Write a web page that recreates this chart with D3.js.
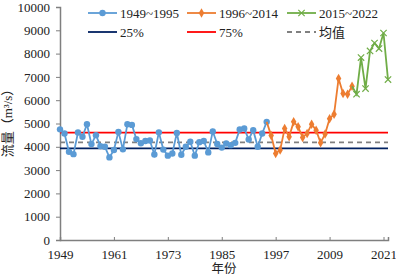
<!DOCTYPE html>
<html>
<head>
<meta charset="utf-8">
<script src="https://cdn.jsdelivr.net/npm/d3@7"></script>
<style>
  body { margin: 0; background: #fff; }
  svg { display: block; }
  text { font-family: "Liberation Serif", "Noto Sans CJK SC", serif; fill: #222; }
</style>
</head>
<body>
<svg id="chart"></svg>
<script>
/* CONSTANTS AND GLOBALS */
const width = 396,
  height = 278,
  margin = { top: 7, bottom: 38, left: 60, right: 8 };

// runoff series (m3/s)
const years1 = d3.range(1949, 1996);
const flow1 = [4750, 4570, 3785, 3685, 4615, 4430, 4970, 4115, 4500, 4030,
  4000, 3545, 3860, 4640, 3890, 4970, 4940, 4330, 4150, 4250,
  4270, 3670, 4620, 3880, 3620, 3715, 4590, 3660, 4000, 4215,
  3620, 4200, 4250, 3760, 4660, 4120, 3965, 4140, 4070, 4170,
  4740, 4785, 4315, 4715, 4000, 4570, 5070];

const years2 = d3.range(1996, 2015);
const flow2 = [4480, 3715, 3860, 4785, 4430, 5070, 4860, 4400, 4570, 4970,
  4715, 4170, 4550, 5200, 5400, 6930, 6285, 6260, 6600];

const years3 = d3.range(2015, 2023);
const flow3 = [6260, 7830, 6500, 8115, 8455, 8215, 8885, 6885];

// reference levels
const q25 = 3930, q75 = 4610, meanFlow = 4190;

const xTicks = [1949, 1961, 1973, 1985, 1997, 2009, 2021];
const yTicks = d3.range(0, 10001, 1000);

const seriesNames = ["1949~1995", "1996~2014", "2015~2022"];
const lineNames = ["25%", "75%", "均值"];

const colors = { s1: "#5b9bd5", s2: "#ed7d31", s3: "#70ad47", q25: "#002060", q75: "#ff0000", mean: "#808080" };

const svg = d3.select("#chart").attr("width", width).attr("height", height);

/* SCALES */
const xScale = d3.scaleLinear()
  .domain([1949, 2022])
  .range([margin.left, width - margin.right]);

const yScale = d3.scaleLinear()
  .domain([0, 10000])
  .range([height - margin.bottom, margin.top]);

/* AXES */
const xAxisGroup = svg.append("g")
  .attr("transform", `translate(0, ${height - margin.bottom})`)
  .call(d3.axisBottom(xScale).tickValues(xTicks).tickFormat(d3.format("d")).tickSizeOuter(0).tickSize(-3).tickPadding(10));

const yAxisGroup = svg.append("g")
  .attr("transform", `translate(${margin.left}, 0)`)
  .call(d3.axisLeft(yScale).tickValues(yTicks).tickFormat(d3.format("d")).tickSizeOuter(0).tickSize(4).tickPadding(6));

[xAxisGroup, yAxisGroup].forEach(g => {
  g.select(".domain").attr("stroke", "#7f7f7f").attr("stroke-width", 1.5);
  g.selectAll(".tick line").attr("stroke", "#7f7f7f");
  g.selectAll(".tick text").attr("font-size", 13).attr("fill", "#222")
    .attr("font-family", "Liberation Serif, serif");
});

// axis labels
svg.append("text")
  .attr("x", (xScale(1949) + xScale(2022)) / 2)
  .attr("y", 273)
  .attr("text-anchor", "middle")
  .attr("font-size", 12.5)
  .text("年份");

svg.append("text")
  .attr("transform", `translate(12, ${yScale(5150)}) rotate(-90)`)
  .attr("text-anchor", "middle")
  .attr("font-size", 13)
  .text("流量（m³/s）");

/* REFERENCE LINES */
const refLines = [
  { v: q25, color: colors.q25, dash: null, w: 1.8 },
  { v: q75, color: colors.q75, dash: null, w: 1.8 },
  { v: meanFlow, color: colors.mean, dash: "5,4", w: 1.6 }
];

svg.selectAll(".ref")
  .data(refLines)
  .join("line")
  .attr("class", "ref")
  .attr("x1", xScale(1949))
  .attr("x2", xScale(2022))
  .attr("y1", d => yScale(d.v))
  .attr("y2", d => yScale(d.v))
  .attr("stroke", d => d.color)
  .attr("stroke-width", d => d.w)
  .attr("stroke-dasharray", d => d.dash);

/* SERIES */
const s1 = years1.map((y, i) => ({ year: y, v: flow1[i] }));
const s2 = years2.map((y, i) => ({ year: y, v: flow2[i] }));
const s3 = years3.map((y, i) => ({ year: y, v: flow3[i] }));

const lineGen = d3.line()
  .x(d => xScale(d.year))
  .y(d => yScale(d.v));

svg.append("path")
  .datum(s1)
  .attr("fill", "none")
  .attr("stroke", colors.s1)
  .attr("stroke-width", 1.8)
  .attr("d", lineGen);

svg.selectAll(".dot1")
  .data(s1)
  .join("circle")
  .attr("class", "dot1")
  .attr("cx", d => xScale(d.year))
  .attr("cy", d => yScale(d.v))
  .attr("r", 3.2)
  .attr("fill", colors.s1);

// the later series connect back to the previous one
svg.append("path")
  .datum([s1[s1.length - 1]].concat(s2))
  .attr("fill", "none")
  .attr("stroke", colors.s2)
  .attr("stroke-width", 1.8)
  .attr("d", lineGen);

svg.selectAll(".dot2")
  .data(s2)
  .join("path")
  .attr("class", "dot2")
  .attr("transform", d => `translate(${xScale(d.year)}, ${yScale(d.v)})`)
  .attr("d", d3.symbol(d3.symbolDiamond, 26))
  .attr("fill", colors.s2);

svg.append("path")
  .datum([s2[s2.length - 1]].concat(s3))
  .attr("fill", "none")
  .attr("stroke", colors.s3)
  .attr("stroke-width", 1.8)
  .attr("d", lineGen);

svg.selectAll(".dot3")
  .data(s3)
  .join("path")
  .attr("class", "dot3")
  .attr("transform", d => `translate(${xScale(d.year)}, ${yScale(d.v)})`)
  .attr("d", d3.symbol(d3.symbolX, 28))
  .attr("fill", "none")
  .attr("stroke", colors.s3)
  .attr("stroke-width", 1.2);

/* LEGEND */
const legendX = [88, 187, 287];
const legend1 = [
  { name: seriesNames[0], color: colors.s1, mark: "circle" },
  { name: seriesNames[1], color: colors.s2, mark: "diamond" },
  { name: seriesNames[2], color: colors.s3, mark: "x" }
];
const legend2 = [
  { name: lineNames[0], color: colors.q25, dash: null },
  { name: lineNames[1], color: colors.q75, dash: null },
  { name: lineNames[2], color: colors.mean, dash: "5,4" }
];

const row1 = svg.selectAll(".leg1")
  .data(legend1)
  .join("g")
  .attr("class", "leg1")
  .attr("transform", (d, i) => `translate(${legendX[i]}, 13)`);

row1.append("line")
  .attr("x1", 0).attr("x2", 29)
  .attr("stroke", d => d.color)
  .attr("stroke-width", 1.8);

row1.filter(d => d.mark === "circle").append("circle")
  .attr("cx", 14.5).attr("r", 3.2).attr("fill", d => d.color);
row1.filter(d => d.mark === "diamond").append("path")
  .attr("transform", "translate(14.5,0)")
  .attr("d", d3.symbol(d3.symbolDiamond, 26))
  .attr("fill", d => d.color);
row1.filter(d => d.mark === "x").append("path")
  .attr("transform", "translate(14.5,0)")
  .attr("d", d3.symbol(d3.symbolX, 28))
  .attr("fill", "none")
  .attr("stroke", d => d.color)
  .attr("stroke-width", 1.2);

row1.append("text")
  .attr("x", 32).attr("dy", "0.35em")
  .attr("font-size", 13)
  .text(d => d.name);

const row2 = svg.selectAll(".leg2")
  .data(legend2)
  .join("g")
  .attr("class", "leg2")
  .attr("transform", (d, i) => `translate(${legendX[i]}, 32)`);

row2.append("line")
  .attr("x1", 0).attr("x2", 29)
  .attr("stroke", d => d.color)
  .attr("stroke-width", 1.8)
  .attr("stroke-dasharray", d => d.dash);

row2.append("text")
  .attr("x", 32).attr("dy", "0.35em")
  .attr("font-size", 13)
  .text(d => d.name);
</script>
</body>
</html>
